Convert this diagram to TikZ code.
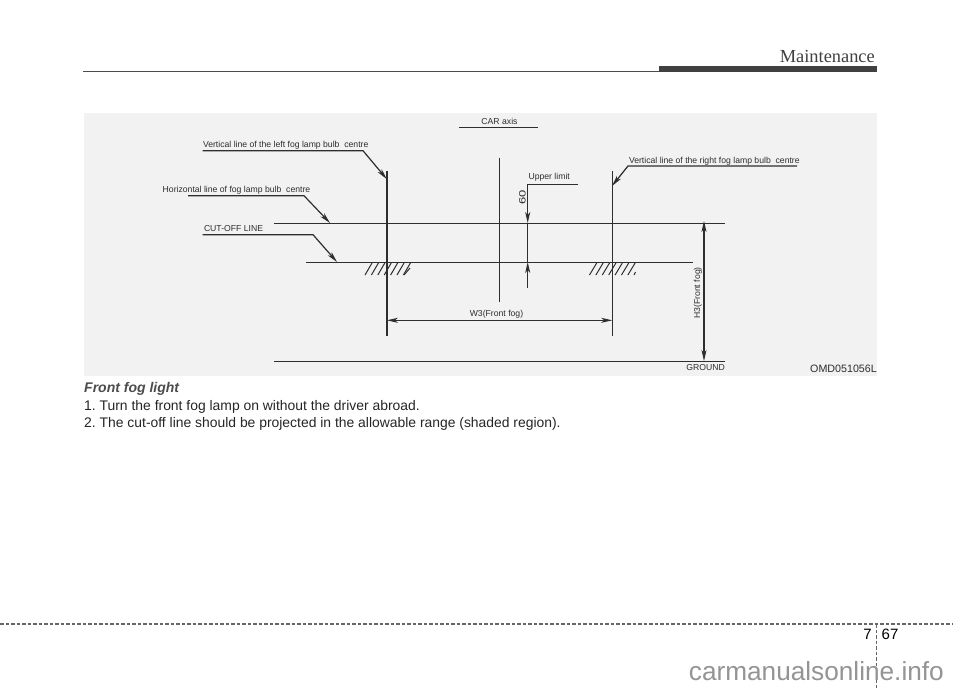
\documentclass[tikz,border=0pt]{standalone}
\usepackage{fontspec}
\setmainfont{Liberation Sans}
\newfontfamily\serifhead{Liberation Serif}
\usetikzlibrary{arrows.meta}
\frenchspacing
\definecolor{panel}{HTML}{F2F2F2}
\definecolor{ink}{HTML}{2E2E2E}
\tikzset{
  x=1pt,y=-1pt,
  lbl/.style={font=\fontsize{8.65}{9}\selectfont,text=ink,inner sep=0pt,outer sep=0pt},
  line/.style={draw=ink,line width=1.2pt},
  tipped/.style={line,-{Stealth[length=11pt,width=5pt,inset=3pt]}},
  twotip/.style={line,{Stealth[length=11pt,width=5pt,inset=3pt]}-{Stealth[length=11pt,width=5pt,inset=3pt]}},
  hatch/.style={draw=ink,line width=1pt},
  capt/.style={font=\fontsize{13.9}{16}\selectfont,text=black!85,inner sep=0pt,anchor=base west},
  foot/.style={draw=black!60,line width=1.1pt,dash pattern=on 3.5pt off 2pt},
}
\begin{document}
\begin{tikzpicture}
\useasboundingbox (0,0) rectangle (960,689);
\fill[white] (0,0) rectangle (960,689);
% header
\node[font=\serifhead\fontsize{18.4}{20}\selectfont,text=black!75,anchor=base east,inner sep=0pt] (head) at (875,62) {Maintenance};
\fill[black!75] (659,65.5) rectangle (877,72);
\draw[black!70,line width=1.4pt] (83,71.3) -- (659,71.3);
% panel
\fill[panel] (84,113) rectangle (877,376);
% frame coordinates
\coordinate (lt) at (386.9,171); \coordinate (lb) at (386.9,336);
\coordinate (rt) at (612.2,171);   \coordinate (rb) at (612.2,336);
\coordinate (at) at (499.7,157.5); \coordinate (ab) at (499.7,302);
\coordinate (hl) at (274,223.2);   \coordinate (hr) at (725,223.2);
\coordinate (cl) at (306,262.2);   \coordinate (cr) at (693,262.2);
\coordinate (gl) at (274,361.7); \coordinate (gr) at (725,361.7);
\draw[line] (lt)--(lb);
\draw[line] (rt)--(rb);
\draw[line] (at)--(ab);
\draw[line] (hl)--(hr);
\draw[line] (cl)--(cr);
\draw[line] (gl)--(gr);
% hatching
\foreach \i in {0,...,6}{
  \draw[hatch] (372+6.4*\i,263) -- (365+6.4*\i,275);
  \draw[hatch] (596.7+6.4*\i,263) -- (589.5+6.4*\i,275);
}
\draw[hatch] (410,268) -- (404,275);
\draw[hatch] (635.5,272) -- (634,275);
% dimensions
\coordinate (wl) at (386.9,320.3); \coordinate (wr) at (612.2,320.3);
\draw[twotip] (wl)--(wr);
\coordinate (ht) at (704,221); \coordinate (hb) at (704,361);
\draw[twotip] (ht)--(hb);
\node[lbl,anchor=base] (w3) at (496.5,316.5) {W3(Front fog)};
\node[lbl,rotate=90,anchor=base] (h3) at (700,293) {H3(Front fog)};
\node[lbl,anchor=base] (ground) at (705.7,370.7) {GROUND};
\node[font=\fontsize{10.7}{11}\selectfont,text=ink,inner sep=0pt,anchor=base east] (code) at (877,372.5) {OMD051056L};
% car axis
\node[lbl,anchor=base] (car) at (499.5,124.5) {CAR axis};
\coordinate (cal) at (459,127.7); \coordinate (car2) at (538,127.7);
\draw[line] (cal)--(car2);
% upper limit
\node[lbl,anchor=base west] (up) at (528.5,179.5) {Upper limit};
\coordinate (u1) at (578,184.3); \coordinate (u2) at (527.7,184.3);
\coordinate (u3) at (527.7,223); \coordinate (u4) at (527.7,262); \coordinate (u5) at (527.7,288);
\draw[tipped] (u1)--(u2)--(u3);
\draw[line] (u3)--(u4);
\draw[tipped] (u5)--(u4);
\node[rotate=90,xscale=1.4,anchor=base,inner sep=0pt,text=ink,font=\fontsize{9.3}{10}\selectfont] (sixty) at (525.5,197.5) {60};
% leaders
\node[lbl,anchor=base west] (vl) at (203,147.5) {Vertical line of the left fog lamp bulb\ \ centre};
\coordinate (a1) at (202.5,150.7); \coordinate (a2) at (363,150.7); \coordinate (a3) at (386.7,179);
\draw[tipped] (a1)--(a2)--(a3);
\node[lbl,anchor=base west] (hz) at (162.7,192.5) {Horizontal line of fog lamp bulb\ \ centre};
\coordinate (b1) at (188,195.7); \coordinate (b2) at (304,195.7); \coordinate (b3) at (330,223);
\draw[tipped] (b1)--(b2)--(b3);
\node[lbl,anchor=base west] (co) at (204,231.5) {CUT-OFF LINE};
\coordinate (c1) at (202.5,234.7); \coordinate (c2) at (313,234.7); \coordinate (c3) at (337,262);
\draw[tipped] (c1)--(c2)--(c3);
\node[lbl,anchor=base west] (vr) at (629,163) {Vertical line of the right fog lamp bulb\ \ centre};
\coordinate (d1) at (797,166); \coordinate (d2) at (628,166); \coordinate (d3) at (612,186);
\draw[tipped] (d1)--(d2)--(d3);
% caption
\node[capt,font=\bfseries\itshape\fontsize{14}{16}\selectfont,text=black!70] (c0) at (84,392) {Front fog light};
\node[capt] (c1t) at (84,410) {1. Turn the front fog lamp on without the driver abroad.};
\node[capt] (c2t) at (84,427.3) {2. The cut-off line should be projected in the allowable range (shaded region).};
% footer
\coordinate (f1) at (0,624); \coordinate (f2) at (953,624);
\coordinate (f3) at (876.7,624); \coordinate (f4) at (876.7,689);
\draw[foot] (f1)--(f2);
\draw[foot] (f3)--(f4);
\node[font=\fontsize{15}{18}\selectfont,text=black,inner sep=0pt,anchor=base east] (p7) at (872,639) {7};
\node[font=\fontsize{15}{18}\selectfont,text=black,inner sep=0pt,anchor=base west] (p67) at (881.5,639) {67};
% watermark
\node[font=\fontsize{26.2}{27}\selectfont,text=black!42,inner sep=0pt,anchor=base east] (wm) at (944,680) {carmanualsonline.info};
\end{tikzpicture}
\end{document}
